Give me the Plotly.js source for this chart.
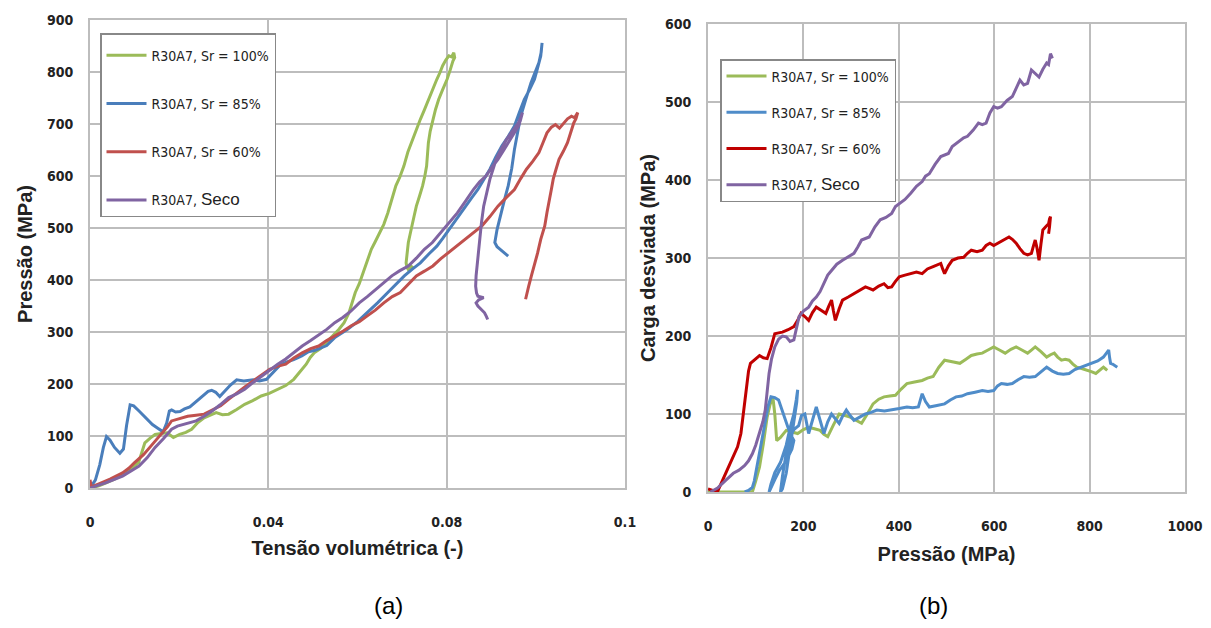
<!DOCTYPE html>
<html><head><meta charset="utf-8">
<script src="https://cdn.plot.ly/plotly-3.0.1.min.js"></script>
<style>body{margin:0;background:#fff}#c{width:1211px;height:628px}</style>
</head><body><div id="c"></div>
<script>
// ---- Data: left panel (a) Tensão volumétrica vs Pressão ----
const legendNames = ['R30A7, Sr = 100%','R30A7, Sr = 85%','R30A7, Sr = 60%','R30A7, Seco'];
const xTickVals = [0,0.04,0.08,0.12];
const xTickText = ['0','0.04','0.08','0.1'];

const a_sr100 = [[0,0],[0.002,4],[0.0036,10],[0.0055,17],[0.0073,26],[0.009,36],[0.0109,49],[0.0116,68],[0.0123,87],[0.0135,96],[0.0146,103],[0.016,105],[0.0173,106],[0.0187,97],[0.0201,103],[0.0215,107],[0.0228,113],[0.0242,126],[0.0256,135],[0.027,140],[0.0283,145],[0.0297,141],[0.0311,142],[0.0329,151],[0.0347,161],[0.0365,168],[0.0384,177],[0.0402,182],[0.0421,190],[0.0439,197],[0.0457,209],[0.0471,223],[0.0485,238],[0.0494,251],[0.0503,260],[0.0517,268],[0.053,279],[0.0544,292],[0.0558,305],[0.057,318],[0.0581,337],[0.0588,357],[0.0595,376],[0.0604,393],[0.0613,414],[0.0622,438],[0.0631,459],[0.064,474],[0.065,491],[0.0659,507],[0.0668,529],[0.0677,557],[0.0686,581],[0.0695,598],[0.0704,619],[0.0713,646],[0.0723,670],[0.0732,688],[0.0741,709],[0.075,727],[0.0759,747],[0.0768,767],[0.0778,786],[0.0785,799],[0.0791,812],[0.0798,823],[0.0805,831],[0.0811,829],[0.0816,837],[0.0818,828],[0.0814,821],[0.0808,804],[0.0801,786],[0.0791,766],[0.0782,747],[0.0775,728],[0.0769,709],[0.0763,686],[0.0759,664],[0.0757,641],[0.0755,619],[0.0751,600],[0.0746,581],[0.0739,561],[0.0732,542],[0.0727,523],[0.0723,504],[0.0718,488],[0.0714,472],[0.0711,452],[0.0709,433],[0.0711,424],[0.0714,420],[0.0721,426],[0.0727,422]];
const a_sr85 = [[0,0],[0.0012,15],[0.0022,45],[0.003,78],[0.0037,99],[0.0045,92],[0.0055,78],[0.0067,67],[0.0075,75],[0.0082,120],[0.009,160],[0.0098,158],[0.011,148],[0.0125,135],[0.014,122],[0.0152,115],[0.0164,108],[0.0172,125],[0.0178,148],[0.0183,150],[0.0192,146],[0.0202,147],[0.0212,152],[0.0224,156],[0.0238,166],[0.0254,179],[0.0265,186],[0.0273,188],[0.0282,184],[0.0291,176],[0.03,185],[0.0315,198],[0.0329,208],[0.0345,206],[0.0366,208],[0.038,206],[0.0396,209],[0.041,222],[0.0426,236],[0.044,242],[0.0457,247],[0.0475,254],[0.049,262],[0.0505,265],[0.0531,274],[0.055,290],[0.0577,305],[0.06,320],[0.0622,337],[0.0645,356],[0.0668,376],[0.0686,392],[0.0705,408],[0.0723,421],[0.0741,433],[0.076,450],[0.0778,465],[0.0792,481],[0.0805,497],[0.0824,519],[0.0842,542],[0.0856,558],[0.087,574],[0.0884,594],[0.0897,613],[0.091,636],[0.0924,658],[0.0938,676],[0.0952,696],[0.0963,722],[0.0974,747],[0.0986,766],[0.0997,786],[0.1004,808],[0.1011,831],[0.1014,856],[0.1012,838],[0.1007,818],[0.0998,800],[0.0989,779],[0.0977,746],[0.0966,715],[0.0959,683],[0.0952,651],[0.0946,615],[0.0938,581],[0.0929,552],[0.092,523],[0.0913,497],[0.0908,472],[0.0913,464],[0.092,459],[0.0929,452],[0.0938,446]];
const a_sr60 = [[0,16],[0.0003,2],[0.002,8],[0.0045,17],[0.0073,29],[0.0087,38],[0.01,49],[0.012,64],[0.0137,81],[0.015,94],[0.0164,106],[0.0174,118],[0.0183,129],[0.02,133],[0.0219,138],[0.0238,140],[0.0256,142],[0.0274,150],[0.0293,158],[0.031,170],[0.0329,183],[0.0348,195],[0.0366,206],[0.0385,217],[0.0403,228],[0.042,234],[0.0439,238],[0.0457,250],[0.0476,260],[0.0495,268],[0.0513,273],[0.053,283],[0.0549,292],[0.0568,302],[0.0586,312],[0.0604,320],[0.0622,331],[0.064,342],[0.0659,356],[0.0678,368],[0.0696,376],[0.0714,392],[0.0732,408],[0.075,417],[0.0769,427],[0.0787,441],[0.0805,453],[0.0824,466],[0.0842,478],[0.086,490],[0.0879,504],[0.0897,522],[0.0915,542],[0.0933,558],[0.0952,574],[0.0966,595],[0.0979,613],[0.0993,628],[0.1007,645],[0.1016,664],[0.1025,683],[0.1035,694],[0.1044,699],[0.1053,692],[0.1062,702],[0.1071,710],[0.108,715],[0.1087,712],[0.1094,722],[0.109,710],[0.1085,702],[0.1078,683],[0.1071,664],[0.1062,648],[0.1052,632],[0.1045,612],[0.1039,594],[0.1035,575],[0.103,555],[0.1025,530],[0.102,504],[0.1015,490],[0.1011,478],[0.1004,452],[0.0997,427],[0.099,408],[0.0984,388],[0.0977,363]];
const a_seco = [[0,0],[0.0035,10],[0.0073,23],[0.009,31],[0.011,42],[0.0128,58],[0.0146,78],[0.0165,95],[0.0183,113],[0.0196,119],[0.021,122],[0.0224,126],[0.0238,129],[0.0256,138],[0.0274,148],[0.0292,160],[0.0311,174],[0.0329,181],[0.0347,190],[0.0366,203],[0.0384,215],[0.0402,226],[0.0421,238],[0.0439,248],[0.0457,260],[0.0476,273],[0.0494,283],[0.0512,293],[0.0531,305],[0.0549,318],[0.0567,328],[0.0585,340],[0.0604,356],[0.0622,368],[0.0641,382],[0.0659,396],[0.0677,408],[0.0695,418],[0.0714,427],[0.0732,442],[0.075,459],[0.0768,472],[0.0787,491],[0.0805,508],[0.0824,529],[0.0842,551],[0.086,574],[0.0874,589],[0.0888,600],[0.0901,616],[0.0915,632],[0.0929,651],[0.0943,670],[0.0952,684],[0.0961,696],[0.0966,709],[0.097,722],[0.0966,712],[0.0961,702],[0.0948,686],[0.0934,670],[0.0922,651],[0.0911,632],[0.0904,613],[0.0897,594],[0.089,568],[0.0883,542],[0.0878,510],[0.0874,478],[0.0871,452],[0.0868,427],[0.0866,408],[0.0865,388],[0.0867,375],[0.087,369],[0.0883,366],[0.0872,362],[0.0866,356],[0.087,350],[0.0877,343],[0.0885,337],[0.0889,330],[0.0892,324]];

// ---- Data: right panel (b) Pressão vs Carga desviada ----
const b_sr100 = [[0,0],[13,0],[40,0],[70,0],[93,0],[100,14],[108,32],[116,62],[124,96],[130,112],[136,122],[140,100],[144,66],[152,70],[164,79],[176,77],[188,75],[200,80],[211,83],[223,81],[235,79],[243,74],[251,71],[263,86],[275,100],[287,98],[298,96],[310,92],[322,88],[334,100],[346,113],[358,119],[369,122],[381,123],[393,124],[405,132],[417,139],[433,141],[449,143],[460,146],[472,148],[484,160],[496,169],[512,167],[528,165],[540,170],[552,175],[564,177],[575,178],[587,182],[599,186],[611,182],[623,178],[635,183],[646,186],[658,182],[670,178],[678,182],[686,186],[698,180],[710,173],[718,176],[726,178],[733,173],[741,169],[749,170],[757,169],[765,164],[773,160],[785,158],[797,156],[805,154],[813,152],[821,156],[829,160],[833,158],[837,156]];
const b_sr85 = [[77,0],[85,2],[93,6],[97,14],[100,24],[108,50],[116,75],[120,92],[126,110],[132,122],[140,121],[148,118],[156,104],[164,88],[172,75],[180,66],[176,55],[164,40],[150,28],[140,16],[132,4],[128,0],[132,10],[140,25],[152,38],[164,60],[172,82],[180,100],[185,118],[188,131],[186,115],[180,90],[172,60],[164,24],[156,4],[152,0],[156,20],[164,50],[172,72],[180,80],[190,85],[196,98],[203,100],[207,88],[211,75],[219,92],[227,109],[235,92],[243,75],[251,90],[259,100],[267,94],[275,88],[282,97],[290,105],[298,98],[306,92],[318,96],[330,100],[342,102],[354,105],[370,104],[385,105],[401,107],[417,109],[429,108],[441,109],[445,118],[449,126],[456,116],[464,109],[480,111],[496,113],[508,118],[520,122],[532,123],[544,126],[560,128],[575,130],[587,129],[599,130],[607,136],[615,139],[627,138],[638,139],[650,144],[662,148],[674,147],[686,148],[698,154],[710,160],[722,155],[733,152],[745,151],[757,152],[769,157],[781,160],[793,162],[805,165],[817,168],[829,173],[836,178],[840,182],[842,172],[844,165],[848,164],[852,162],[858,160]];
const b_sr60 = [[0,4],[10,2],[21,2],[30,14],[37,24],[45,34],[53,45],[62,58],[69,75],[75,105],[81,139],[85,155],[89,165],[98,170],[108,175],[116,172],[124,171],[132,185],[140,203],[148,204],[156,205],[168,208],[180,212],[188,220],[195,229],[203,225],[211,220],[219,230],[227,237],[237,233],[247,229],[253,238],[259,246],[263,232],[267,220],[275,235],[282,246],[294,250],[306,254],[318,258],[330,263],[338,261],[346,259],[358,264],[369,267],[377,262],[385,263],[393,270],[401,276],[413,278],[425,280],[437,282],[449,280],[460,286],[472,289],[480,291],[488,293],[492,286],[496,280],[504,290],[512,297],[524,300],[536,301],[544,306],[552,310],[564,308],[575,310],[583,316],[591,319],[599,316],[607,319],[619,323],[631,327],[638,324],[646,319],[654,312],[662,306],[670,304],[678,306],[682,315],[686,323],[690,312],[694,297],[698,318],[702,336],[708,340],[714,344],[716,350],[718,353],[716,340],[714,331]];
const b_seco = [[5,0],[20,5],[37,15],[45,20],[53,24],[65,28],[77,34],[85,40],[93,49],[100,60],[108,75],[115,90],[120,105],[124,128],[128,152],[133,170],[140,186],[148,196],[156,200],[164,199],[172,193],[180,195],[186,212],[191,225],[200,232],[211,237],[219,245],[227,250],[235,257],[243,267],[251,278],[259,284],[270,292],[282,297],[294,301],[306,306],[314,314],[322,323],[330,325],[338,327],[350,340],[361,349],[373,352],[385,357],[393,366],[401,370],[413,375],[425,383],[437,392],[449,398],[456,405],[464,408],[476,420],[488,430],[496,432],[504,434],[512,443],[520,447],[528,451],[536,454],[544,456],[556,464],[567,473],[575,471],[583,473],[591,486],[599,494],[607,492],[615,494],[627,502],[638,507],[646,518],[654,528],[662,522],[670,524],[678,541],[686,536],[694,532],[702,542],[710,550],[714,548],[718,562],[722,556]];

const colorsA = ['#9BBB59','#4A7EBB','#C0504D','#8064A2'];
const colorsB = ['#9BBB59','#4F8CC9','#C00000','#8064A2'];

const narrow = 'DejaVu Sans Condensed, Liberation Sans Narrow, Arial Narrow, sans-serif';
function nameHtml(n){
  return n.replace('Seco','<span style="font-family:Liberation Sans, Arial;font-size:17px">Seco</span>');
}
function mk(pairs, i, panel){
  const isA = panel==='a';
  return {
    x: pairs.map(p=>p[0]), y: pairs.map(p=>p[1]),
    type:'scatter', mode:'lines', name: nameHtml(legendNames[i]),
    line:{color:(isA?colorsA:colorsB)[i], width:3},
    xaxis: isA?'x':'x2', yaxis: isA?'y':'y2',
    legend: isA?'legend':'legend2', legendgroup: panel+i
  };
}
const traces = [
  mk(a_sr100,0,'a'), mk(a_sr85,1,'a'), mk(a_sr60,2,'a'), mk(a_seco,3,'a'),
  mk(b_sr100,0,'b'), mk(b_sr85,1,'b'), mk(b_sr60,2,'b'), mk(b_seco,3,'b')
];

const gridC = '#BDBDBD';
const tickF = {family: narrow, size:14, color:'#222', weight:'bold'};
const titleF = {family:'Liberation Sans, Arial, sans-serif', size:20, color:'#222', weight:'bold'};
const axBase = {showgrid:true, gridcolor:gridC, gridwidth:2, showline:true, linecolor:gridC, linewidth:2, mirror:true, zeroline:false, ticks:'', tickfont:tickF, automargin:false};

const layout = {
  width:1211, height:628, paper_bgcolor:'#fff', plot_bgcolor:'#fff',
  margin:{l:0,r:0,t:0,b:0}, showlegend:true,
  xaxis: Object.assign({}, axBase, {domain:[90/1211,625/1211], range:[0,0.12], tickvals:xTickVals, ticktext:xTickText, ticklabelstandoff:20,
    title:{text:'Tensão volumétrica (-)', font:titleF, standoff:12}, anchor:'y'}),
  yaxis: Object.assign({}, axBase, {domain:[140/628,608/628], range:[0,900], dtick:100, ticklabelstandoff:12,
    title:{text:'Pressão (MPa)', font:titleF, standoff:9}, anchor:'x'}),
  xaxis2: Object.assign({}, axBase, {domain:[708/1211,1185/1211], range:[0,1000], dtick:200, ticklabelstandoff:20,
    title:{text:'Pressão (MPa)', font:titleF, standoff:14}, anchor:'y2'}),
  yaxis2: Object.assign({}, axBase, {domain:[136/628,604/628], range:[0,600], dtick:100, ticklabelstandoff:12,
    title:{text:'Carga desviada (MPa)', font:titleF, standoff:4}, anchor:'x2'}),
  legend: {x:100/1211, y:1-33/628, xanchor:'left', yanchor:'top', bgcolor:'#fff', bordercolor:'#888', borderwidth:1.5,
    font:{family:narrow, size:14, color:'#222'}, traceorder:'grouped', tracegroupgap:27, itemwidth:40,
    title:{text:' ', font:{size:4}}},
  legend2: {x:720/1211, y:1-59/628, xanchor:'left', yanchor:'top', bgcolor:'#fff', bordercolor:'#888', borderwidth:1.5,
    font:{family:narrow, size:14, color:'#222'}, traceorder:'grouped', tracegroupgap:15, itemwidth:40},
  annotations:[
    {text:'(a)', xref:'paper', yref:'paper', x:372/1211, y:1-605/628, yanchor:'middle', showarrow:false, font:{family:'Liberation Sans, Arial', size:24, color:'#000'}},
    {text:'(b)', xref:'paper', yref:'paper', x:950/1211, y:1-605/628, yanchor:'middle', showarrow:false, font:{family:'Liberation Sans, Arial', size:24, color:'#000'}}
  ]
};
Plotly.newPlot('c', traces, layout, {displayModeBar:false, staticPlot:true});
</script></body></html>
